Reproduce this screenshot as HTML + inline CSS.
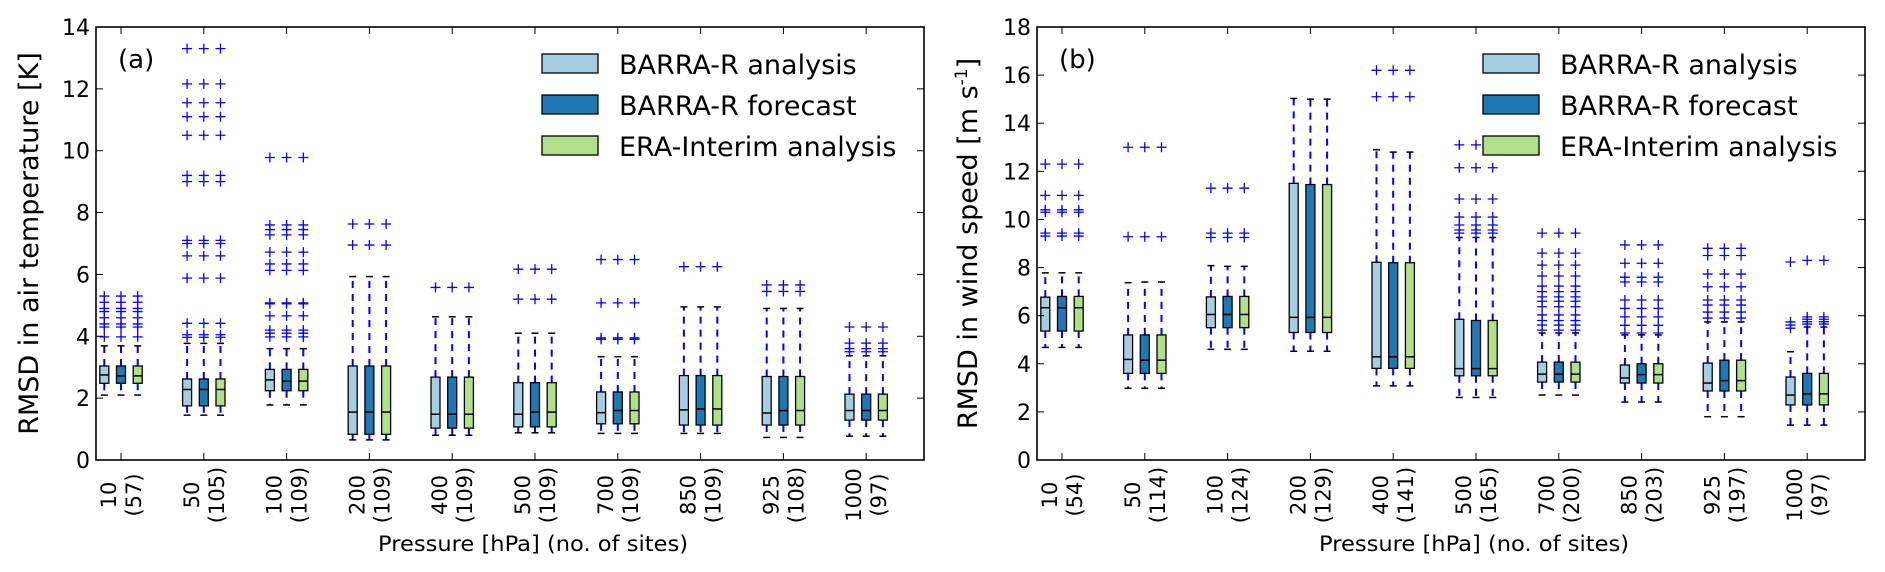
<!DOCTYPE html>
<html><head><meta charset="utf-8"><style>
html,body{margin:0;padding:0;background:#fff;}
svg{display:block;font-family:"DejaVu Sans","Liberation Sans",sans-serif;}
</style></head><body>
<svg id="fig" width="1885" height="572" viewBox="0 0 1885 572" xmlns="http://www.w3.org/2000/svg"></svg>
<script>
const categories = ["10","50","100","200","400","500","700","850","925","1000"];
const sitesA = ["57","105","109","109","109","109","109","109","108","97"];
const sitesB = ["54","114","124","129","141","165","200","203","197","97"];
const seriesNames = ["BARRA-R analysis","BARRA-R forecast","ERA-Interim analysis"];
const seriesColors = ["#a6cee3","#1f78b4","#b2df8a"];

// Panel (a) temperature
const aQ1 = [2.48,1.75,2.24,0.83,1.03,1.07,1.17,1.13,1.13,1.29];
const aMed = [2.75,2.28,2.59,1.55,1.48,1.48,1.53,1.62,1.52,1.6];
const aMedF = [2.72,2.28,2.55,1.55,1.48,1.55,1.6,1.65,1.6,1.6];
const aQ3 = [3.04,2.62,2.93,3.04,2.68,2.5,2.2,2.73,2.7,2.13];
const aLo = [2.1,1.45,1.78,0.65,0.8,0.88,0.86,0.86,0.73,0.77];
const aHi = [3.69,3.77,3.6,5.93,4.63,4.1,3.34,4.95,4.9,3.37];
const aOut = [
 [3.98,4.3,4.4,4.6,4.8,4.9,5.1,5.3],
 [13.3,12.16,11.55,11.1,10.5,9.2,9.0,7.1,7.0,6.6,5.88,4.42,4.05,3.97],
 [9.78,7.6,7.45,7.28,6.72,6.34,6.13,5.08,5.05,4.66,4.2,4.1,3.98],
 [7.63,6.95],
 [5.58],
 [6.17,5.2],
 [6.48,5.08,3.95,3.9],
 [6.25],
 [5.66,5.45],
 [4.3,3.78,3.6,3.5]
];
// Panel (b) wind
const bQ1 = [5.36,3.6,5.5,5.3,3.81,3.5,3.24,3.2,2.87,2.29];
const bMed = [6.33,4.18,6.05,5.93,4.29,3.8,3.57,3.41,3.2,2.7];
const bMedF = [6.33,4.15,6.05,5.93,4.29,3.8,3.57,3.55,3.3,2.75];
const bQ3 = [6.77,5.2,6.78,11.5,8.22,5.85,4.07,3.95,4.03,3.45];
const bQ3F = [6.8,5.2,6.8,11.45,8.2,5.8,4.07,4.0,4.15,3.6];
const bLo = [4.68,2.98,4.6,4.52,3.08,2.6,2.7,2.41,1.8,1.45];
const bHi = [7.78,7.37,8.08,15.03,12.9,9.25,5.28,5.2,5.74,4.5];
const bHiF = [7.78,7.4,8.05,15.0,12.8,9.25,5.28,5.2,5.74,5.53];
const bOut = [
 [12.3,11.0,10.4,10.3,9.43,9.31],
 [13.0,9.28],
 [11.3,9.43,9.25],
 [],
 [16.2,15.1],
 [13.1,12.15,10.85,10.1,9.77,9.56,9.43],
 [9.43,8.6,8.1,7.65,7.23,7.0,6.78,6.6,6.37,6.03,5.8,5.61,5.4],
 [8.94,8.18,7.6,7.4,6.65,6.3,5.95,5.6,5.28],
 [8.8,8.5,7.73,7.2,6.65,6.44,6.15,5.9],
 [8.23,5.74,5.61,5.48]
];
const bOutF9 = [8.3,5.95,5.85,5.75,5.65];

const svg = document.getElementById('fig');
const NS = "http://www.w3.org/2000/svg";
function mk(tag, attrs, parent){
  const e = document.createElementNS(NS, tag);
  for (const k in attrs) e.setAttribute(k, attrs[k]);
  (parent||svg).appendChild(e);
  return e;
}

function panel(opt){
  const L = opt.left, R = L + 828, T = 27, B = 460;
  const g = mk('g', {});
  
  
  const xPos = i => L + 25 + 82.8 * i;
  const yPos = v => B - (B - T) * v / opt.ymax;
  const offs = [-16.7, 0, 16.7];
  const bw = 9;
  for (let s = 0; s < 3; s++){
    for (let i = 0; i < categories.length; i++){
      const cx = xPos(i) + offs[s];
      const d = opt.get(s, i);
      const bg = mk('g', {}, g);
      
      
      mk('line', {x1:cx, x2:cx, y1:yPos(d.q3), y2:yPos(d.hi), stroke:'#0000ff', 'stroke-width':2, 'stroke-dasharray':'7,6'}, bg);
      mk('line', {x1:cx, x2:cx, y1:yPos(d.q1), y2:yPos(d.lo), stroke:'#0000ff', 'stroke-width':2, 'stroke-dasharray':'7,6'}, bg);
      mk('line', {x1:cx-3.5, x2:cx+3.5, y1:yPos(d.hi), y2:yPos(d.hi), stroke:'#000', 'stroke-width':1.5}, bg);
      mk('line', {x1:cx-3.5, x2:cx+3.5, y1:yPos(d.lo), y2:yPos(d.lo), stroke:'#000', 'stroke-width':1.5}, bg);
      mk('rect', {x:cx-bw/2, y:yPos(d.q3), width:bw, height:yPos(d.q1)-yPos(d.q3), fill:seriesColors[s], stroke:'#000', 'stroke-width':1.3}, bg);
      mk('line', {x1:cx-bw/2, x2:cx+bw/2, y1:yPos(d.med), y2:yPos(d.med), stroke:'#000', 'stroke-width':1.5}, bg);
      for (const o of d.out){
        const oy = yPos(o);
        mk('path', {d:`M${cx-5},${oy}H${cx+5}M${cx},${oy-5}V${oy+5}`, stroke:'#0000ff', 'stroke-width':1.3, fill:'none'}, bg);
      }
    }
  }
  const fr = mk('rect', {x:L, y:T, width:828, height:B-T, fill:'none', stroke:'#000', 'stroke-width':1.6}, g);
  
  
  for (let v = 0; v <= opt.ymax; v += 2){
    const y = yPos(v);
    mk('line', {x1:L, x2:L+7, y1:y, y2:y, stroke:'#000', 'stroke-width':1}, g);
    mk('line', {x1:R-7, x2:R, y1:y, y2:y, stroke:'#000', 'stroke-width':1}, g);
    const t = mk('text', {x:L-6, y:y+8, 'text-anchor':'end', 'font-size':22, fill:'#000'}, g);
    
    
    t.textContent = v;
  }
  for (let i = 0; i < categories.length; i++){
    const x = xPos(i);
    mk('line', {x1:x, x2:x, y1:B, y2:B-7, stroke:'#000', 'stroke-width':1}, g);
    mk('line', {x1:x, x2:x, y1:T, y2:T+7, stroke:'#000', 'stroke-width':1}, g);
    const l1 = mk('text', {x:0, y:0, 'text-anchor':'middle', 'font-size':21, fill:'#000', transform:`translate(${x-5},495) rotate(-90)`}, g);
    
    
    l1.textContent = categories[i];
    const l2 = mk('text', {x:0, y:0, 'text-anchor':'middle', 'font-size':21, fill:'#000', transform:`translate(${x+20},495) rotate(-90)`}, g);
    
    
    l2.textContent = '(' + opt.sites[i] + ')';
  }
  const xl = mk('text', {x:(L+R)/2+23, y:551, 'text-anchor':'middle', 'font-size':21, textLength:310, lengthAdjust:'spacingAndGlyphs', fill:'#000'}, g);
  
  
  xl.textContent = 'Pressure [hPa] (no. of sites)';
  const yl = mk('text', {x:0, y:0, 'text-anchor':'middle', 'font-size':27, fill:'#000', transform:`translate(${opt.ylx},${(T+B)/2}) rotate(-90)`}, g);
  
  
  yl.innerHTML = opt.ylabel;
  const pl = mk('text', {x:L+22, y:68, 'font-size':26, fill:'#000'}, g);
  
  
  pl.textContent = opt.letter;
  const lg = mk('g', {}, g);
  
  
  for (let s = 0; s < 3; s++){
    const yy = 54 + 41 * s;
    const e = mk('g', {}, lg);
    
    
    mk('rect', {x:R-382, y:yy, width:56, height:19, fill:seriesColors[s], stroke:'#000', 'stroke-width':1.3}, e);
    const tt = mk('text', {x:R-305, y:yy+20, 'font-size':27, fill:'#000'}, e);
    tt.textContent = seriesNames[s];
  }
}

panel({name:'panel-a-temperature', left:96, ymax:14, sites:sitesA, letter:'(a)', ylx:38,
  ylabel:'RMSD in air temperature [K]',
  get:(s,i)=>({q1:aQ1[i], med:(s===0?aMed[i]:aMedF[i]), q3:aQ3[i], lo:aLo[i], hi:aHi[i], out:aOut[i]})});
panel({name:'panel-b-wind', left:1037, ymax:18, sites:sitesB, letter:'(b)', ylx:977,
  ylabel:'RMSD in wind speed [m s<tspan dy="-10" font-size="17">-1</tspan><tspan dy="10">]</tspan>',
  get:(s,i)=>({q1:bQ1[i], med:(s===0?bMed[i]:bMedF[i]), q3:(s===0?bQ3[i]:bQ3F[i]), lo:bLo[i], hi:(s===0?bHi[i]:bHiF[i]), out:(s>0&&i===9?bOutF9:bOut[i])})});
</script>
</body></html>
